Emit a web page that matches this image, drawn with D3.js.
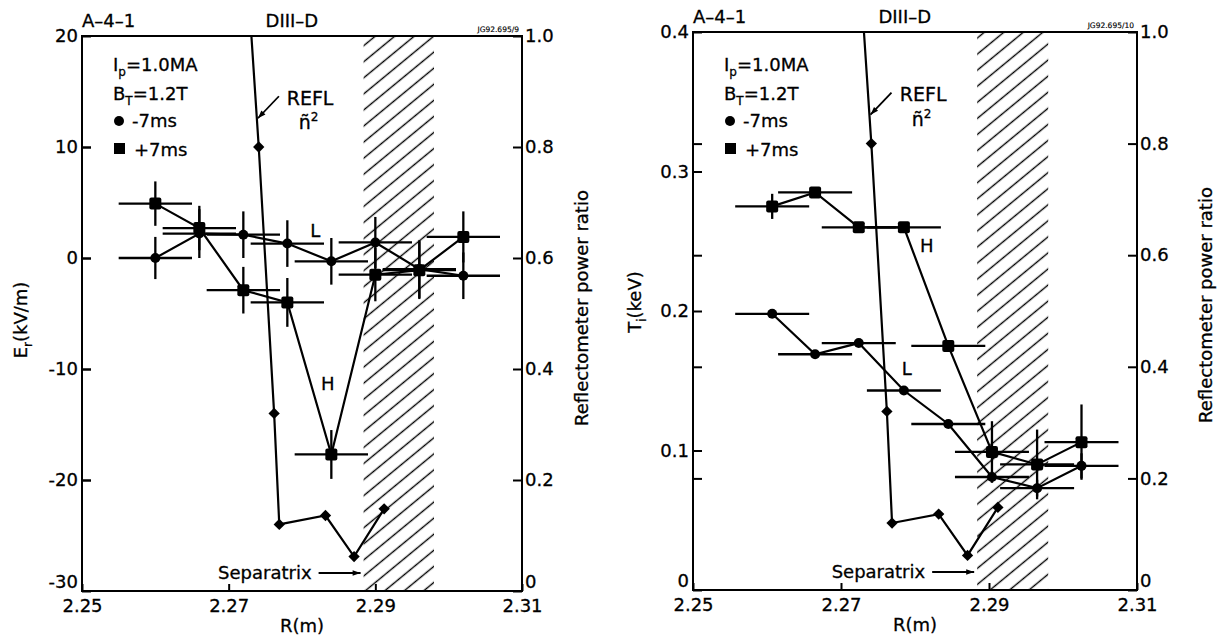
<!DOCTYPE html>
<html>
<head>
<meta charset="utf-8">
<script src="https://cdn.jsdelivr.net/npm/d3@7"></script>
<style>
  html, body { margin: 0; padding: 0; background: #fff; }
  svg text { font-family: "DejaVu Sans", sans-serif; fill: #000; stroke: #000; stroke-width: 0.3px; }
</style>
</head>
<body>
<svg id="chart" width="1221" height="639"></svg>
<script>
// ---- Data -------------------------------------------------------------
// Radial chord positions (m) and their radial resolution
const erRadius    = [2.260, 2.266, 2.272, 2.278, 2.284, 2.290, 2.296, 2.302];
const erRadiusErr = [0.005, 0.005, 0.005, 0.005, 0.005, 0.005, 0.005, 0.005];
// Radial electric field (kV/m): -7 ms (L-mode) and +7 ms (H-mode)
const erBefore    = [0.0, 2.2, 2.1, 1.3, -0.3, 1.4, -1.0, -1.6];
const erBeforeErr = [1.9, 2.2, 2.1, 2.1, 2.1, 2.3, 2.6, 2.1];
const erAfter     = [4.9, 2.7, -2.9, -4.0, -17.7, -1.5, -1.1, 1.9];
const erAfterErr  = [2.0, 2.0, 2.1, 2.2, 2.2, 2.4, 2.6, 2.3];

const tiRadius    = [2.2607, 2.2665, 2.2724, 2.2785, 2.2845, 2.2904, 2.2965, 2.3025];
const tiRadiusErr = [0.005, 0.005, 0.005, 0.005, 0.005, 0.005, 0.005, 0.005];
// Ion temperature (keV)
const tiBefore    = [0.198, 0.169, 0.177, 0.143, 0.119, 0.081, 0.073, 0.089];
const tiBeforeErr = [0, 0, 0, 0, 0, 0.004, 0.006, 0.009];
const tiAfter     = [0.275, 0.285, 0.260, 0.260, 0.175, 0.099, 0.090, 0.106];
const tiAfterErr  = [0.009, 0, 0, 0, 0, 0.022, 0.025, 0.027];

// Reflectometer power ratio (REFL ñ²), entering from the top of the frame
const reflRadius = [2.2731, 2.2741, 2.2762, 2.2769, 2.2832, 2.2871, 2.2912];
const reflRatio  = [1.00, 0.80, 0.32, 0.12, 0.136, 0.062, 0.148];

const separatrixBand = [2.2884, 2.2980];

// Tick values
const radiusTicks = [2.25, 2.27, 2.29, 2.31];
const erTicks     = [20, 10, 0, -10, -20, -30];
const tiTicks     = [0.4, 0.3, 0.2, 0.1, 0];
const ratioTicks  = [1.0, 0.8, 0.6, 0.4, 0.2, 0];

// ---- Layout -----------------------------------------------------------
const svg = d3.select("#chart");
const FONT = "DejaVu Sans, sans-serif";

const defs = svg.append("defs");
// diagonal hatching for the scrape-off region
const hatch = defs.append("pattern")
  .attr("id", "hatch")
  .attr("patternUnits", "userSpaceOnUse")
  .attr("width", 12.4).attr("height", 12.4)
  .attr("patternTransform", "rotate(-39.5)");
hatch.append("line")
  .attr("x1", -1).attr("x2", 13.4).attr("y1", 6.2).attr("y2", 6.2)
  .attr("stroke", "#000").attr("stroke-width", 1.4);

defs.append("marker")
  .attr("id", "arrowhead")
  .attr("viewBox", "0 0 10 10")
  .attr("refX", 10).attr("refY", 5)
  .attr("markerUnits", "userSpaceOnUse")
  .attr("markerWidth", 10).attr("markerHeight", 8)
  .attr("orient", "auto")
  .append("path").attr("d", "M0,1.5 L10,5 L0,8.5 Z").attr("fill", "#000");

const fmtInt = d => String(d);
const fmtOne = d => d === 0 ? "0" : d.toFixed(1);

const panels = [
  {
    id: "er", left: 82, right: 522, top: 36, bottom: 591,
    yDomain: [-30, 20], yTicks: erTicks, yFmt: fmtInt,
    radius: erRadius, radiusErr: erRadiusErr,
    before: erBefore, beforeErr: erBeforeErr,
    after: erAfter, afterErr: erAfterErr,
    yTitle: ["E", "r", "(kV/m)"], yTitleX: 55, yTitleY: 320,
    rTitleX: 66, rTitleY: 308,
    tag: "JG92.695/9",
    hLabel: [2.2835, -11.3], lLabel: [2.2818, 2.55],
    titleDrop: 9
  },
  {
    id: "ti", left: 693, right: 1137, top: 32, bottom: 590,
    yDomain: [0, 0.4], yTicks: tiTicks, yFmt: fmtOne,
    radius: tiRadius, radiusErr: tiRadiusErr,
    before: tiBefore, beforeErr: tiBeforeErr,
    after: tiAfter, afterErr: tiAfterErr,
    yTitle: ["T", "i", "(keV)"], yTitleX: 52, yTitleY: 302,
    rTitleX: 75, rTitleY: 305,
    tag: "JG92.695/10",
    hLabel: [2.2816, 0.247], lLabel: [2.2789, 0.159],
    titleDrop: 9
  }
];

const legendY = [71, 100, 127, 156];

panels.forEach(p => {
  const g = svg.append("g").attr("class", "panel-" + p.id);
  const x = d3.scaleLinear().domain([2.25, 2.31]).range([p.left, p.right]);
  const y = d3.scaleLinear().domain(p.yDomain).range([p.bottom, p.top]);
  const yR = d3.scaleLinear().domain([0, 1]).range([p.bottom, p.top]);
  const w = p.right - p.left, h = p.bottom - p.top;

  defs.append("clipPath").attr("id", "clip-" + p.id)
    .append("rect").attr("x", p.left).attr("y", p.top).attr("width", w).attr("height", h);

  // hatched band beyond the separatrix
  g.append("rect")
    .attr("x", x(separatrixBand[0])).attr("y", p.top)
    .attr("width", x(separatrixBand[1]) - x(separatrixBand[0]))
    .attr("height", h)
    .attr("fill", "url(#hatch)");

  // axes
  const styleAxis = sel => {
    sel.attr("font-size", 18).attr("font-family", FONT);
    sel.select(".domain").remove();
    sel.selectAll(".tick line").attr("stroke", "#000").attr("stroke-width", 2);
    sel.selectAll(".tick text").attr("fill", "#000");
  };
  // lift the lowest vertical-axis label clear of the radius labels
  const liftBottom = (sel, scale) => {
    sel.selectAll(".tick text").filter(d => Math.abs(scale(d) - p.bottom) < 0.5)
      .attr("y", -9);
  };
  g.append("g").attr("transform", `translate(${p.left},0)`)
    .call(d3.axisLeft(y).tickValues(p.yTicks).tickFormat(p.yFmt).tickSize(-9).tickPadding(4))
    .call(styleAxis).call(liftBottom, y);
  g.append("g").attr("transform", `translate(${p.right},0)`)
    .call(d3.axisRight(yR).tickValues(ratioTicks).tickFormat(fmtOne).tickSize(-9).tickPadding(3))
    .call(styleAxis).call(liftBottom, yR);
  // ratio ticks mirrored on the left edge
  g.append("g").attr("transform", `translate(${p.left},0)`)
    .call(d3.axisLeft(y).tickValues(ratioTicks.slice(1, -1).map(v => y.invert(yR(v)))).tickFormat("").tickSize(-9))
    .call(styleAxis);
  g.append("g").attr("transform", `translate(0,${p.bottom})`)
    .call(d3.axisBottom(x).tickValues(radiusTicks).tickFormat(d3.format(".2f")).tickSize(-7).tickPadding(8))
    .call(styleAxis);

  // frame
  g.append("rect").attr("x", p.left).attr("y", p.top).attr("width", w).attr("height", h)
    .attr("fill", "none").attr("stroke", "#000").attr("stroke-width", 2);

  // axis titles
  const yt = g.append("text")
    .attr("transform", `translate(${p.left - p.yTitleX},${p.yTitleY}) rotate(-90)`)
    .attr("text-anchor", "middle").attr("font-size", 18);
  yt.append("tspan").text(p.yTitle[0]);
  yt.append("tspan").attr("font-size", 12).attr("dy", 5).text(p.yTitle[1]);
  yt.append("tspan").attr("dy", -5).text(p.yTitle[2]);

  g.append("text")
    .attr("transform", `translate(${p.right + p.rTitleX},${p.rTitleY}) rotate(-90)`)
    .attr("text-anchor", "middle").attr("font-size", 18)
    .text("Reflectometer power ratio");

  g.append("text").attr("x", (p.left + p.right) / 2).attr("y", p.bottom + 41)
    .attr("text-anchor", "middle").attr("font-size", 18).text("R(m)");

  // header labels
  g.append("text").attr("x", p.left).attr("y", p.top - p.titleDrop)
    .attr("font-size", 18).text("A–4–1");
  g.append("text").attr("x", p.left + w * 0.477).attr("y", p.top - p.titleDrop)
    .attr("text-anchor", "middle").attr("font-size", 18).text("DIII–D");
  g.append("text").attr("x", p.right - 3).attr("y", p.top - 4)
    .attr("text-anchor", "end").attr("font-size", 7.5).style("stroke-width", "0.15px").text(p.tag);

  // legend
  const lx = p.left + 31;
  const t1 = g.append("text").attr("x", lx).attr("y", legendY[0]).attr("font-size", 18);
  t1.append("tspan").text("I");
  t1.append("tspan").attr("font-size", 12).attr("dy", 5).text("p");
  t1.append("tspan").attr("dy", -5).text("=1.0MA");
  const t2 = g.append("text").attr("x", lx).attr("y", legendY[1]).attr("font-size", 18);
  t2.append("tspan").text("B");
  t2.append("tspan").attr("font-size", 12).attr("dy", 5).text("T");
  t2.append("tspan").attr("dy", -5).text("=1.2T");
  g.append("circle").attr("cx", lx + 6).attr("cy", legendY[2] - 6).attr("r", 5);
  g.append("text").attr("x", lx + 19).attr("y", legendY[2]).attr("font-size", 18).text("-7ms");
  g.append("rect").attr("x", lx + 1).attr("y", legendY[3] - 13).attr("width", 11).attr("height", 11);
  g.append("text").attr("x", lx + 21).attr("y", legendY[3]).attr("font-size", 18).text("+7ms");

  // reflectometer curve
  const refl = reflRadius.map((r, i) => [r, reflRatio[i]]);
  const plot = g.append("g").attr("clip-path", `url(#clip-${p.id})`);
  plot.append("path")
    .attr("d", d3.line().x(d => x(d[0])).y(d => yR(d[1]))(refl))
    .attr("fill", "none").attr("stroke", "#000").attr("stroke-width", 2.2);
  plot.selectAll(".refl-pt").data(refl.filter(d => d[1] < 1)).join("path")
    .attr("class", "refl-pt")
    .attr("transform", d => `translate(${x(d[0])},${yR(d[1])}) rotate(45)`)
    .attr("d", d3.symbol(d3.symbolSquare, 64)());

  // REFL label with its arrow
  const tA = (1.0 - 0.85) / (reflRatio[0] - reflRatio[1]);
  const ax = x(reflRadius[0] + tA * (reflRadius[1] - reflRadius[0]));
  const ay = yR(0.85);
  g.append("line").attr("x1", ax + 22).attr("y1", ay - 23).attr("x2", ax + 1).attr("y2", ay - 1)
    .attr("stroke", "#000").attr("stroke-width", 1.8).attr("marker-end", "url(#arrowhead)");
  g.append("text").attr("x", x(2.2811)).attr("y", yR(0.876))
    .attr("text-anchor", "middle").attr("font-size", 19).text("REFL");
  const nt = g.append("text").attr("x", x(2.2809)).attr("y", yR(0.832))
    .attr("text-anchor", "middle").attr("font-size", 19);
  nt.append("tspan").text("ñ");
  nt.append("tspan").attr("font-size", 12).attr("dy", -8).text("2");

  // error bars and profiles
  const drawSeries = (vals, errs, cls) => {
    const pts = p.radius.map((r, i) => ({ r, v: vals[i], dr: p.radiusErr[i], dv: errs[i] }));
    const eb = g.append("g").attr("class", cls + "-err")
      .attr("stroke", "#000").attr("stroke-width", 2.3);
    pts.forEach(d => {
      eb.append("line").attr("x1", x(d.r - d.dr)).attr("x2", x(d.r + d.dr))
        .attr("y1", y(d.v)).attr("y2", y(d.v));
      if (d.dv > 0) {
        eb.append("line").attr("x1", x(d.r)).attr("x2", x(d.r))
          .attr("y1", y(d.v - d.dv)).attr("y2", y(d.v + d.dv));
      }
    });
    g.append("path")
      .attr("d", d3.line().x(d => x(d.r)).y(d => y(d.v))(pts))
      .attr("fill", "none").attr("stroke", "#000").attr("stroke-width", 2.2);
    return pts;
  };
  const bPts = drawSeries(p.before, p.beforeErr, "before");
  const aPts = drawSeries(p.after, p.afterErr, "after");
  g.selectAll(".before-pt").data(bPts).join("circle")
    .attr("class", "before-pt")
    .attr("cx", d => x(d.r)).attr("cy", d => y(d.v)).attr("r", 5);
  g.selectAll(".after-pt").data(aPts).join("rect")
    .attr("class", "after-pt")
    .attr("x", d => x(d.r) - 6).attr("y", d => y(d.v) - 6)
    .attr("width", 12).attr("height", 12).attr("rx", 2);

  // regime labels
  g.append("text").attr("x", x(p.hLabel[0])).attr("y", y(p.hLabel[1]) + 7)
    .attr("text-anchor", "middle").attr("font-size", 18).text("H");
  g.append("text").attr("x", x(p.lLabel[0])).attr("y", y(p.lLabel[1]) + 7)
    .attr("text-anchor", "middle").attr("font-size", 18).text("L");

  // separatrix marker
  const sx = x(separatrixBand[0]);
  const sy = p.bottom - 18;
  g.append("text").attr("x", sx - 52).attr("y", sy + 6)
    .attr("text-anchor", "end").attr("font-size", 18).text("Separatrix");
  g.append("line").attr("x1", sx - 45).attr("x2", sx - 3).attr("y1", sy).attr("y2", sy)
    .attr("stroke", "#000").attr("stroke-width", 1.8).attr("marker-end", "url(#arrowhead)");
});
</script>
</body>
</html>
